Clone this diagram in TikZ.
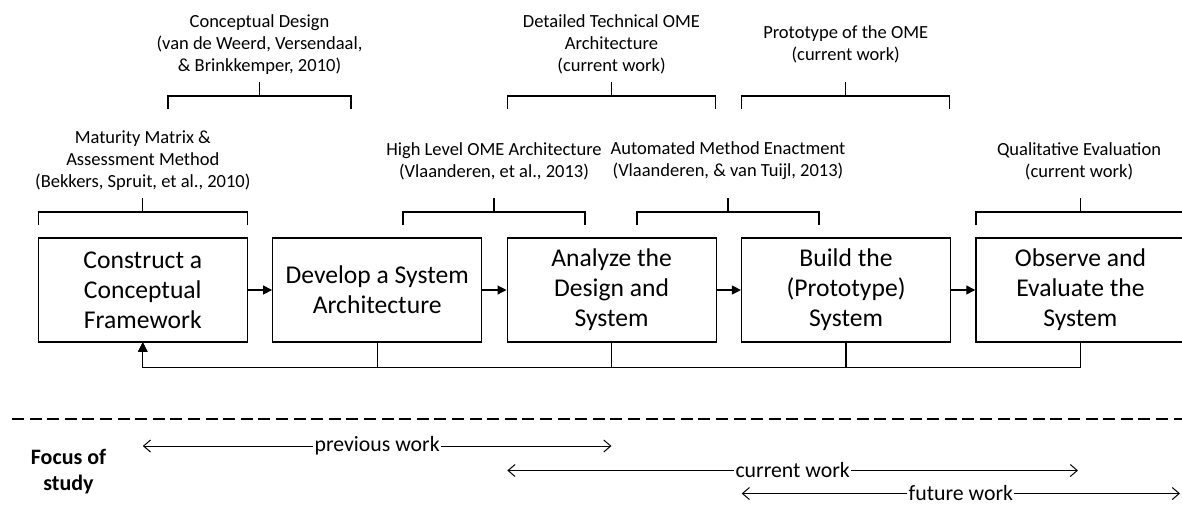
\documentclass[tikz,border=0pt]{standalone}
\usepackage{fontspec}
\setmainfont{Carlito}
\usetikzlibrary{positioning, arrows.meta}

\tikzset{
	stage/.style = {draw, line width = 0.6pt, minimum width = 104.5pt, minimum height = 52pt, inner sep = 0pt, align = center, font = \fontsize{12.8}{15}\selectfont},
	source/.style = {align = center, inner sep = 0pt, font = \fontsize{9.25}{11}\selectfont},
	span/.style = {<->, > = {Straight Barb[length = 3.5pt, width = 6pt]}, line width = 0.5pt},
	spanlabel/.style = {fill = white, inner sep = 0.6pt, font = \fontsize{10.9}{13}\selectfont},
}

\begin{document}
\begin{tikzpicture}[x = 0.5pt, y = -0.5pt, > = {Triangle[length = 4.5pt, width = 4.5pt]}, node distance = 12.1pt]

	\useasboundingbox (0, 0) rectangle (1182, 504);

	\node [stage] (construct) at (142.8, 290) {Construct a\\Conceptual\\Framework};
	\node [stage, right = of construct] (develop) {Develop a System\\Architecture};
	\node [stage, right = of develop] (analyze) {Analyze the\\Design and\\System};
	\node [stage, right = of analyze] (build) {Build the\\(Prototype)\\System};
	\node [stage, right = of build] (observe) {Observe and\\Evaluate the\\System};

	\begin{scope}[->, line width = 0.6pt]

		\draw (construct) -- (develop);
		\draw (develop) -- (analyze);
		\draw (analyze) -- (build);
		\draw (build) -- (observe);

		\coordinate (loop) at (142.8, 367.7);
		\foreach \phase in {develop, analyze, build, observe}
			\draw (\phase.south) |- (loop) -- (construct.south);

	\end{scope}

	\node [source] (maturity) at (142.8, 161) {Maturity Matrix \&\\Assessment Method\\(Bekkers, Spruit, et al., 2010)};
	\node [source] (highlevel) at (494, 161) {High Level OME Architecture\\(Vlaanderen, et al., 2013)};
	\node [source] (automated) at (728, 161) {Automated Method Enactment\\(Vlaanderen, \& van Tuijl, 2013)};
	\node [source] (qualitative) at (1079, 161) {Qualitative Evaluation\\(current work)};

	\node [source] (conceptual) at (259.5, 44.5) {Conceptual Design\\(van de Weerd, Versendaal,\\\& Brinkkemper, 2010)};
	\node [source] (detailed) at (611.5, 44.5) {Detailed Technical OME\\Architecture\\(current work)};
	\node [source] (prototype) at (845.7, 44.5) {Prototype of the OME\\(current work)};

	\foreach \xa / \xb / \yb in {38.3 / 247.3 / 212, 403 / 585 / 212, 637 / 819 / 212, 976 / 1185 / 212, 168 / 351 / 96, 507.3 / 715.7 / 96, 741.7 / 949.7 / 96}
		\draw [line width = 0.6pt] (\xa, \yb + 13) -- (\xa, \yb) -- (\xb, \yb) -- (\xb, \yb + 13) ({(\xa + \xb) / 2}, \yb) -- ({(\xa + \xb) / 2}, \yb - 14);

	\draw [line width = 0.7pt, dash pattern = on 6pt off 2.8pt] (12, 419) -- (1182, 419);

	\node [align = center, font = \bfseries\fontsize{11}{13}\selectfont] (focus) at (68.5, 472) {Focus of\\study};

	\coordinate (previous start) at (142.8, 446);
	\coordinate (previous end) at (611.5, 446);
	\coordinate (current start) at (507.3, 470.5);
	\coordinate (current end) at (1078, 470.5);
	\coordinate (future start) at (741.7, 493.5);
	\coordinate (future end) at (1180, 493.5);

	\draw [span] (previous start) -- node [spanlabel] {previous work} (previous end);
	\draw [span] (current start) -- node [spanlabel] {current work} (current end);
	\draw [span] (future start) -- node [spanlabel] {future work} (future end);

\end{tikzpicture}
\end{document}
